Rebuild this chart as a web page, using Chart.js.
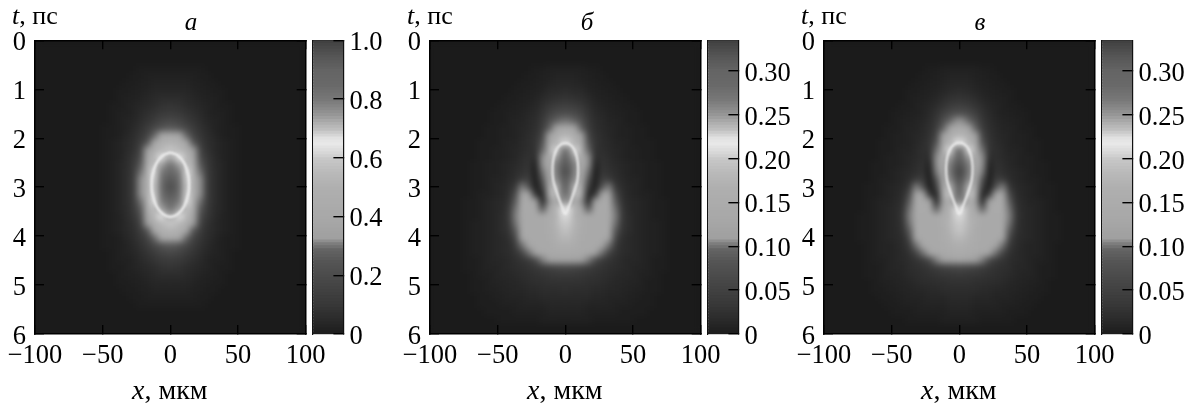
<!DOCTYPE html>
<html>
<head>
<meta charset="utf-8">
<script src="https://cdn.jsdelivr.net/npm/chart.js@4/dist/chart.umd.min.js"></script>
<style>
html, body { margin: 0; padding: 0; background: #fff; }
body { width: 1196px; height: 403px; position: relative; overflow: hidden; font-family: "Liberation Serif", serif; color: #000; }
canvas { position: absolute; top: 0; }
.lab { position: absolute; white-space: nowrap; line-height: 1; }
.lab i { font-style: italic; }
</style>
</head>
<body>
<script>
'use strict';

var xTicks = [-100, -50, 0, 50, 100];
var tTicks = [0, 1, 2, 3, 4, 5, 6];
var barTicksA = [0, 0.2, 0.4, 0.6, 0.8, 1.0];
var barTicksB = [0, 0.05, 0.10, 0.15, 0.20, 0.25, 0.30];
var barTopA = 1.0;
var barTopB = 0.335;

// colour scale: percent of bar height -> grey level
var scalePct = [0, 5, 10, 15, 20, 25, 29, 31, 33, 40, 50, 55, 60, 62, 65, 67, 70, 72, 75, 80, 85, 90, 95, 100];
var scaleGrey = [27, 42, 55, 65, 75, 85, 100, 125, 160, 168, 175, 185, 200, 215, 232, 225, 190, 175, 150, 120, 105, 100, 85, 65];

// cell centres, right half only (pictures are mirror symmetric about x = 0)
var xCols = [2.5, 7.5, 12.5, 17.5, 22.5, 27.5, 32.5, 37.5, 42.5, 47.5, 52.5, 57.5, 62.5, 67.5, 72.5];
var tRows = [0.6, 0.75, 0.9, 1.05, 1.2, 1.35, 1.5, 1.65, 1.8, 1.95, 2.1, 2.25, 2.4, 2.55, 2.7, 2.85, 3.0, 3.15,
    3.3, 3.45, 3.6, 3.75, 3.9, 4.05, 4.2, 4.35, 4.5, 4.65, 4.8, 4.95, 5.1, 5.25, 5.4, 5.55, 5.7];

// field values, percent of bar top, one line per tRows entry
var fieldA = [
    [1, 1, 1, 1, 1],
    [2, 2, 2, 2, 1, 1],
    [3, 3, 3, 2, 2, 1, 1],
    [4, 4, 4, 3, 2, 2, 1, 1],
    [6, 6, 5, 4, 3, 2, 2, 1],
    [9, 8, 6, 5, 4, 3, 2, 1, 1],
    [12, 11, 9, 7, 5, 3, 2, 2, 1],
    [18, 16, 12, 9, 6, 4, 3, 2, 1],
    [26, 23, 18, 12, 8, 5, 3, 2, 1, 1],
    [42, 38, 29, 16, 10, 6, 4, 2, 1, 1],
    [51, 48, 40, 25, 13, 7, 5, 3, 2, 1],
    [59, 53, 47, 33, 17, 8, 5, 3, 2, 1],
    [72, 65, 52, 42, 21, 10, 6, 3, 2, 1],
    [80, 73, 56, 47, 26, 12, 6, 4, 2, 1],
    [86, 79, 63, 49, 30, 13, 7, 4, 2, 1],
    [93, 82, 68, 50, 32, 14, 7, 4, 2, 1],
    [96, 83, 69, 50, 32, 14, 7, 4, 2, 1],
    [93, 82, 68, 50, 32, 14, 7, 4, 2, 1],
    [86, 79, 63, 49, 30, 13, 7, 4, 2, 1],
    [80, 73, 56, 47, 26, 12, 6, 4, 2, 1],
    [72, 65, 52, 42, 21, 10, 6, 3, 2, 1],
    [59, 53, 47, 33, 17, 8, 5, 3, 2, 1],
    [51, 48, 40, 25, 13, 7, 5, 3, 2, 1],
    [42, 38, 29, 16, 10, 6, 4, 2, 1, 1],
    [26, 23, 18, 12, 8, 5, 3, 2, 1, 1],
    [18, 16, 12, 9, 6, 4, 3, 2, 1],
    [12, 11, 9, 7, 5, 3, 2, 2, 1],
    [9, 8, 6, 5, 4, 3, 2, 1, 1],
    [6, 6, 5, 4, 3, 2, 2, 1],
    [4, 4, 4, 3, 2, 2, 1, 1],
    [3, 3, 3, 2, 2, 1, 1],
    [2, 2, 2, 2, 1, 1],
    [1, 1, 1, 1, 1]
];
var fieldB = [
    [2, 2, 2, 1, 1],
    [3, 3, 2, 2, 1, 1],
    [4, 4, 3, 2, 2, 1, 1],
    [6, 5, 5, 3, 2, 2, 1, 1],
    [9, 8, 7, 5, 3, 2, 2, 1, 1],
    [14, 13, 10, 7, 4, 3, 2, 2, 1, 1],
    [21, 19, 15, 9, 5, 4, 3, 2, 2, 1, 1],
    [30, 28, 21, 11, 6, 5, 3, 3, 2, 1, 1],
    [42, 36, 27, 13, 7, 5, 4, 3, 2, 2, 1, 1],
    [52, 46, 35, 17, 8, 6, 4, 3, 2, 2, 1, 1],
    [62, 50, 41, 23, 9, 6, 5, 3, 3, 2, 1, 1, 1],
    [80, 63, 46, 29, 8, 7, 5, 4, 3, 2, 2, 1, 1],
    [88, 73, 48, 32, 6, 8, 6, 4, 3, 2, 2, 1, 1],
    [93, 78, 50, 32, 2, 9, 7, 5, 4, 3, 2, 2, 1, 1],
    [96, 78, 48, 30, 0, 10, 8, 6, 4, 3, 2, 2, 1, 1],
    [92, 76, 46, 25, 0, 14, 13, 7, 5, 3, 3, 2, 1, 1],
    [88, 70, 42, 14, 0, 24, 31, 11, 6, 4, 3, 2, 1, 1],
    [82, 58, 44, 2, 8, 36, 38, 20, 7, 4, 3, 2, 2, 1],
    [76, 50, 32, 2, 34, 42, 43, 27, 8, 5, 4, 3, 2, 1, 1],
    [66, 50, 40, 25, 41, 42, 43, 30, 10, 5, 4, 3, 2, 1, 1],
    [62, 50, 44, 42, 42, 42, 42, 31, 11, 6, 4, 3, 2, 1, 1],
    [60, 52, 44, 42, 41, 41, 42, 30, 10, 6, 4, 3, 2, 2, 1],
    [57, 50, 44, 41, 41, 41, 41, 26, 9, 6, 4, 3, 2, 2, 1],
    [53, 48, 43, 41, 41, 41, 38, 18, 7, 5, 4, 3, 2, 2, 1],
    [47, 45, 42, 41, 41, 38, 30, 12, 6, 5, 4, 3, 2, 2, 1],
    [43, 42, 41, 40, 37, 30, 17, 9, 6, 5, 4, 3, 2, 2, 1],
    [36, 35, 33, 31, 20, 12, 9, 7, 5, 4, 4, 3, 2, 1, 1],
    [18, 17, 15, 13, 10, 9, 7, 6, 5, 4, 3, 3, 2, 1, 1],
    [11, 11, 10, 9, 8, 7, 6, 5, 4, 4, 3, 2, 2, 1],
    [8, 8, 8, 7, 7, 6, 5, 4, 4, 3, 3, 2, 1, 1],
    [7, 6, 6, 6, 5, 5, 4, 4, 3, 3, 2, 2, 1, 1],
    [5, 5, 5, 5, 4, 4, 3, 3, 3, 2, 2, 1, 1],
    [4, 4, 4, 3, 3, 3, 3, 2, 2, 2, 1, 1, 1],
    [3, 3, 3, 2, 2, 2, 2, 2, 1, 1, 1, 1],
    [2, 2, 2, 2, 1, 1, 1, 1, 1, 1]
];
var fieldC = [
    [2, 2, 2, 1, 1],
    [3, 3, 2, 2, 1, 1],
    [4, 4, 3, 2, 2, 1, 1],
    [6, 5, 4, 3, 2, 2, 1, 1],
    [9, 8, 6, 4, 3, 2, 2, 1],
    [14, 12, 9, 6, 4, 3, 2, 1, 1],
    [22, 19, 14, 8, 5, 3, 2, 2, 1, 1],
    [32, 29, 21, 10, 6, 4, 3, 2, 2, 1],
    [43, 37, 28, 13, 7, 5, 3, 3, 2, 1, 1],
    [52, 46, 36, 17, 8, 5, 4, 3, 2, 2, 1],
    [64, 50, 41, 24, 9, 6, 4, 3, 2, 2, 1, 1],
    [82, 64, 46, 30, 8, 7, 5, 3, 3, 2, 1, 1],
    [90, 74, 49, 32, 6, 7, 5, 4, 3, 2, 2, 1],
    [95, 79, 50, 32, 2, 8, 6, 4, 3, 2, 2, 1, 1],
    [98, 80, 49, 31, 0, 9, 7, 5, 4, 3, 2, 1, 1],
    [95, 77, 46, 25, 0, 13, 12, 6, 4, 3, 2, 2, 1],
    [90, 71, 42, 14, 0, 24, 31, 10, 5, 4, 3, 2, 1, 1],
    [84, 60, 44, 2, 9, 37, 38, 19, 6, 4, 3, 2, 1, 1],
    [78, 50, 33, 3, 35, 43, 43, 27, 7, 5, 3, 3, 2, 1],
    [67, 50, 41, 27, 42, 43, 43, 30, 9, 5, 4, 3, 2, 1],
    [62, 51, 45, 43, 43, 42, 42, 31, 10, 5, 4, 3, 2, 1, 1],
    [60, 53, 45, 42, 42, 41, 42, 30, 9, 5, 4, 3, 2, 1, 1],
    [58, 51, 44, 42, 41, 41, 41, 26, 8, 5, 4, 3, 2, 1, 1],
    [54, 49, 44, 42, 41, 41, 38, 18, 6, 5, 4, 3, 2, 1, 1],
    [48, 46, 43, 41, 41, 38, 30, 11, 6, 4, 3, 3, 2, 1],
    [44, 43, 41, 40, 37, 30, 17, 8, 5, 4, 3, 3, 2, 1],
    [37, 35, 33, 31, 20, 12, 9, 6, 5, 4, 3, 2, 2, 1],
    [18, 17, 15, 13, 10, 8, 7, 6, 4, 4, 3, 2, 1, 1],
    [11, 10, 10, 9, 8, 7, 6, 5, 4, 3, 3, 2, 1, 1],
    [8, 8, 7, 7, 6, 6, 5, 4, 3, 3, 2, 2, 1],
    [6, 6, 6, 5, 5, 4, 4, 3, 3, 2, 2, 1, 1],
    [5, 5, 4, 4, 4, 3, 3, 3, 2, 2, 1, 1],
    [4, 4, 3, 3, 3, 3, 2, 2, 2, 1, 1],
    [3, 3, 2, 2, 2, 2, 2, 1, 1, 1],
    [2, 2, 2, 1, 1, 1, 1, 1]
];

// thin bright ring, right half, top to bottom
var ringXA = [0, 5.5, 10.5, 13.4, 13.8, 13.4, 10.5, 5.5, 0];
var ringTA = [2.29, 2.35, 2.52, 2.78, 2.95, 3.12, 3.38, 3.55, 3.61];
var ringXB = [0, 3, 6, 8.5, 9.5, 9, 7, 4.7, 2.5, 0];
var ringTB = [2.10, 2.12, 2.2, 2.38, 2.6, 2.85, 3.05, 3.24, 3.4, 3.55];
var ringXC = [0, 3, 6.2, 8.8, 9.8, 9.2, 7.2, 4.8, 2.5, 0];
var ringTC = [2.09, 2.11, 2.19, 2.37, 2.6, 2.85, 3.05, 3.24, 3.4, 3.55];

var titles = ['а', 'б', 'в'];
var plotH = 293.7;
var plotTop = 40.3;
var tickFont = { family: 'Liberation Serif', size: 26.5 };

function greyFor(pct) {
    var i = 1;
    while (i < scalePct.length - 1 && scalePct[i] < pct) i++;
    var f = (pct - scalePct[i - 1]) / (scalePct[i] - scalePct[i - 1]);
    var g = Math.round(scaleGrey[i - 1] + f * (scaleGrey[i] - scaleGrey[i - 1]));
    return 'rgb(' + g + ',' + g + ',' + g + ')';
}

function cellsFrom(field) {
    var pts = [];
    field.forEach(function(row, r) {
        row.forEach(function(v, c) {
            pts.push({ x: xCols[c], y: tRows[r], v: v });
            pts.push({ x: -xCols[c], y: tRows[r], v: v });
        });
    });
    return pts;
}

function ringFrom(xs, ts) {
    var pts = [];
    xs.forEach(function(x, i) { pts.push({ x: x, y: ts[i] }); });
    for (var i = xs.length - 2; i >= 0; i--) pts.push({ x: -xs[i], y: ts[i] });
    return pts;
}

var softenPlugin = {
    id: 'soften',
    beforeDraw: function(chart) {
        var a = chart.chartArea, ctx = chart.ctx;
        ctx.save();
        ctx.fillStyle = greyFor(0);
        ctx.fillRect(a.left, a.top, a.width, a.height);
        ctx.restore();
    },
    beforeDatasetDraw: function(chart, args) {
        if (args.index === 1) {
            chart.ctx.save();
            chart.ctx.filter = 'blur(0.8px)';
        }
    },
    afterDatasetDraw: function(chart, args) {
        var a = chart.chartArea, ctx = chart.ctx;
        if (args.index === 1) {
            ctx.restore();
            return;
        }
        ctx.save();
        ctx.beginPath();
        ctx.rect(a.left, a.top, a.width, a.height);
        ctx.clip();
        ctx.filter = 'blur(3.4px)';
        ctx.drawImage(chart.canvas, a.left, a.top, a.width, a.height, a.left, a.top, a.width, a.height);
        ctx.restore();
    }
};

function addCanvas(left, width) {
    var c = document.createElement('canvas');
    c.width = width;
    c.height = 403;
    c.style.left = left + 'px';
    c.style.width = width + 'px';
    c.style.height = '403px';
    document.body.appendChild(c);
    return c.getContext('2d');
}

function setTicks(list) {
    return function(scale) {
        scale.ticks = list.map(function(v) { return { value: v }; });
    };
}

function fixSize(prop, size) {
    return function(scale) {
        scale[prop] = size;
        scale.paddingLeft = scale.paddingRight = scale.paddingTop = scale.paddingBottom = 0;
    };
}

function axisBase(position, min, max, list, prop, size) {
    return {
        type: 'linear',
        position: position,
        min: min,
        max: max,
        afterBuildTicks: setTicks(list),
        afterFit: fixSize(prop, size),
        border: { color: '#000', width: 1.5, z: 1 },
        grid: { z: 1, drawOnChartArea: false, color: '#000', lineWidth: 1.4, tickLength: -9, tickWidth: 1.4, tickColor: '#000' },
        ticks: { display: false }
    };
}

function drawPanel(left, field, ringX, ringT, ringWidth) {
    var xAxis = axisBase('bottom', -100, 100, xTicks, 'height', 69);
    xAxis.ticks = {
        display: true, padding: 15, maxRotation: 0, autoSkip: false, color: '#000',
        font: tickFont,
        callback: function(v) { return v < 0 ? '\u2212' + (-v) : String(v); }
    };
    var yAxis = axisBase('left', 0, 6, tTicks, 'width', 35);
    yAxis.reverse = true;
    yAxis.ticks = {
        display: true, padding: 18, autoSkip: false, color: '#000', labelOffset: 3,
        font: tickFont,
        callback: function(v) { return String(v); }
    };
    var y2Axis = axisBase('right', 0, 6, tTicks, 'width', 0);
    y2Axis.reverse = true;

    return new Chart(addCanvas(left, 330), {
        type: 'scatter',
        data: {
            datasets: [{
                order: 2,
                data: cellsFrom(field),
                pointStyle: 'rect',
                pointRadius: 5.8,
                borderWidth: 0,
                backgroundColor: function(ctx) { return greyFor(ctx.raw.v); }
            }, {
                order: 1,
                data: ringFrom(ringX, ringT),
                showLine: true,
                tension: 0.4,
                pointRadius: 0,
                borderColor: '#efefef',
                borderWidth: ringWidth
            }]
        },
        options: {
            responsive: false,
            animation: false,
            events: [],
            layout: { padding: { top: plotTop, right: 24.3, left: 0, bottom: 0 } },
            plugins: { legend: { display: false }, tooltip: { enabled: false } },
            scales: {
                x: xAxis,
                x2: axisBase('top', -100, 100, xTicks, 'height', 0),
                y: yAxis,
                y2: y2Axis
            }
        },
        plugins: [softenPlugin]
    });
}

function drawBar(left, top, ticksList, digits) {
    var levels = [];
    for (var p = 0; p <= 100; p++) levels.push(p);
    var yAxis = {
        type: 'linear',
        position: 'right',
        offset: false,
        min: 0,
        max: top,
        afterBuildTicks: setTicks(ticksList),
        afterFit: fixSize('width', 57.6),
        border: { color: '#111', width: 1.2, z: 1 },
        grid: { z: 1, offset: false, drawOnChartArea: false, color: '#000', lineWidth: 1.4, tickLength: -10, tickWidth: 1.4, tickColor: '#000' },
        ticks: {
            display: true, padding: 16, autoSkip: false, color: '#000', labelOffset: 3,
            font: tickFont,
            callback: function(v) { return v === 0 ? '0' : v.toFixed(digits); }
        }
    };
    var edge = function(position, prop) {
        return {
            type: 'linear', position: position, min: 0, max: 1,
            afterFit: fixSize(prop, 0),
            border: { color: '#111', width: 1.2 },
            grid: { drawOnChartArea: false, drawTicks: false },
            ticks: { display: false }
        };
    };
    return new Chart(addCanvas(left, 90), {
        type: 'bar',
        data: {
            datasets: [{
                data: levels.map(function(p) { return { x: 1, y: p / 100 * top, v: p }; }),
                barThickness: 4,
                backgroundColor: function(ctx) { return greyFor(ctx.raw.v); },
                borderWidth: 0
            }]
        },
        options: {
            indexAxis: 'y',
            responsive: false,
            animation: false,
            events: [],
            layout: { padding: { top: plotTop, left: 2, right: 0, bottom: 403 - plotTop - plotH } },
            plugins: { legend: { display: false }, tooltip: { enabled: false } },
            scales: {
                x: edge('bottom', 'height'),
                x2: edge('top', 'height'),
                y: yAxis,
                y2: { type: 'linear', position: 'left', min: 0, max: 1, afterFit: fixSize('width', 0),
                    border: { color: '#111', width: 1.2 }, grid: { drawOnChartArea: false, drawTicks: false }, ticks: { display: false } }
            }
        }
    });
}

function addLabel(html, x, y, size, center) {
    var d = document.createElement('div');
    d.className = 'lab';
    d.innerHTML = html;
    d.style.left = x + 'px';
    d.style.top = y + 'px';
    d.style.fontSize = size + 'px';
    if (center) d.style.transform = 'translateX(-50%)';
    document.body.appendChild(d);
}

drawPanel(0, fieldA, ringXA, ringTA, 2.4);
drawPanel(395, fieldB, ringXB, ringTB, 2);
drawPanel(789, fieldC, ringXC, ringTC, 2);
drawBar(311.3, barTopA, barTicksA, 1);
drawBar(706.3, barTopB, barTicksB, 2);
drawBar(1100.3, barTopB, barTicksB, 2);

[12, 407, 801].forEach(function(x) { addLabel('<i>t</i>, пс', x, 3, 26); });
[132, 527, 921].forEach(function(x) { addLabel('<i>x</i>, мкм', x, 376, 28); });
[191, 587, 980].forEach(function(x, i) { addLabel('<i>' + titles[i] + '</i>', x, 9, 25, true); });
</script>
</body>
</html>
